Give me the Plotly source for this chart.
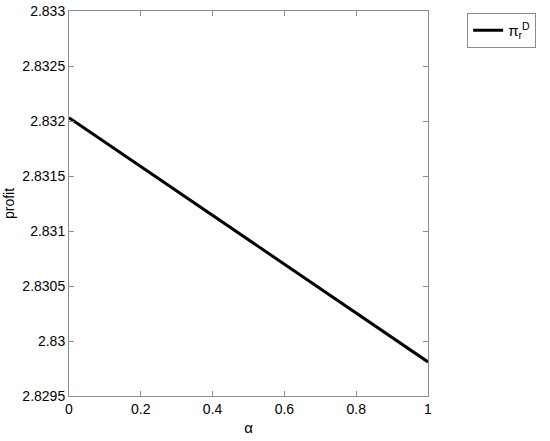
import plotly.graph_objects as go

alpha = [0, 1]
profit = [2.83203, 2.82981]
x_ticks = [0, 0.2, 0.4, 0.6, 0.8, 1]
y_ticks = [2.8295, 2.83, 2.8305, 2.831, 2.8315, 2.832, 2.8325, 2.833]
y_tick_labels = ["2.8295", "2.83", "2.8305", "2.831", "2.8315", "2.832", "2.8325", "2.833"]

fig = go.Figure()
fig.add_trace(go.Scatter(x=alpha, y=profit, mode="lines",
                         line=dict(color="black", width=3),
                         name="π<sub>r</sub><sup>D</sup>"))

axis_common = dict(showline=True, linecolor="#8c8c8c", linewidth=1, mirror="ticks",
                   ticks="inside", ticklen=5, tickcolor="#8c8c8c",
                   showgrid=False, zeroline=False, automargin=False,
                   ticklabeloverflow="allow",
                   tickfont=dict(family="Arial", size=14, color="black"))

fig.update_xaxes(range=[0, 1], tickvals=x_ticks, ticktext=["0", "0.2", "0.4", "0.6", "0.8", "1"],
                 title=dict(text="α", font=dict(family="Arial", size=15, color="black"), standoff=6),
                 **axis_common)
fig.update_yaxes(range=[2.8295, 2.833], tickvals=y_ticks, ticktext=y_tick_labels,
                 title=dict(text="profit", font=dict(family="Arial", size=14, color="black"), standoff=4),
                 **axis_common)

fig.update_layout(
    width=550, height=441,
    margin=dict(l=69, r=122, t=11, b=45),
    plot_bgcolor="white", paper_bgcolor="white",
    showlegend=True,
    legend=dict(x=1.109, y=0.995, xanchor="left", yanchor="top",
                bordercolor="#8c8c8c", borderwidth=1,
                font=dict(family="Arial", size=15, color="black"),
                bgcolor="white"),
)

fig.write_html("out.html", config={"displayModeBar": False},
               post_script="document.body.style.margin='0';document.body.style.overflow='hidden';")
